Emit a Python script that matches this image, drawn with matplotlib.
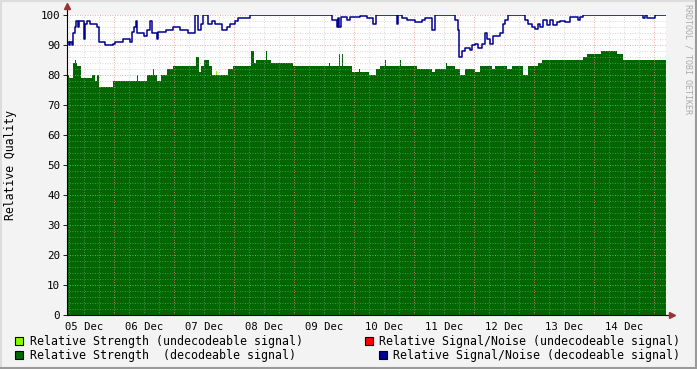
import numpy as np
import matplotlib.pyplot as plt
from matplotlib.patches import Rectangle
from matplotlib.lines import Line2D

# hours since 05 Dec 00:00, step values (each holds until the next hour)
strength_hours = [5.2, 6.0, 7.7, 8.4, 8.8, 9.3, 10.7, 15.0, 16.5, 17.0, 18.1, 23.7,
                  33.0, 33.4, 37.3, 39.5, 40.0, 41.0, 42.7, 45.0, 47.7, 56.8, 58.0,
                  58.8, 60.0, 62.1, 63.0, 69.7, 71.7, 78.8, 80.0, 80.8, 84.8, 85.2,
                  86.7, 95.7, 110.0, 110.5, 114.0, 114.4, 115.0, 115.4, 119.0, 122.0,
                  122.5, 126.1, 128.8, 130.4, 132.4, 132.8, 138.4, 138.8, 145.0, 151.0,
                  152.4, 156.8, 157.0, 160.4, 162.4, 164.4, 168.4, 170.4, 175.1, 176.4,
                  181.0, 183.0, 187.7, 189.7, 193.7, 195.0, 211.7, 213.0, 218.8, 225.3,
                  227.7, 244.8]
strength_vals = [80, 79, 84, 85, 84, 83, 79, 80, 78, 80, 76, 78,
                 80, 78, 80, 82, 80, 78, 80, 82, 83, 86, 81,
                 83, 85, 83, 80, 82, 83, 88, 84, 85, 88, 85,
                 84, 83, 84, 83, 87, 83, 87, 83, 81, 82,
                 81, 80, 82, 83, 85, 83, 85, 83, 82, 81,
                 82, 84, 83, 82, 80, 82, 81, 83, 82, 83,
                 82, 83, 80, 83, 84, 85, 86, 87, 88, 87,
                 85, 85]

# a few short bursts of undecodeable signal strength
weak_hours = [64.6, 65.0, 185.4, 185.8]
weak_vals = [81.5, 0, 83, 0]

snr_hours = [5.2, 5.8, 6.2, 7.0, 7.7, 8.3, 8.9, 9.4, 10.1, 11.8, 12.2, 13.2, 14.4,
             17.0, 17.8, 20.4, 23.7, 24.4, 27.7, 30.4, 31.0, 32.0, 32.8, 33.3, 36.0,
             37.3, 38.3, 39.0, 41.0, 41.7, 44.8, 47.5, 50.4, 53.7, 56.4, 57.7, 58.7,
             59.7, 61.7, 63.0, 64.4, 67.0, 69.0, 70.4, 72.4, 73.7, 78.4, 111.0, 113.0,
             113.5, 114.0, 114.7, 117.0, 118.4, 122.4, 125.0, 127.7, 128.8, 137.0,
             137.7, 139.0, 141.0, 144.4, 147.0, 148.4, 151.0, 152.4, 160.4, 161.5,
             162.1, 163.0, 164.4, 166.4, 167.0, 168.4, 169.7, 171.0, 172.4, 173.0,
             174.4, 175.7, 177.0, 178.4, 179.7, 180.4, 181.7, 188.4, 189.7, 191.0,
             192.4, 193.7, 194.4, 195.7, 197.0, 198.4, 199.7, 201.0, 202.4, 204.4,
             206.4, 209.4, 210.4, 211.7, 235.7, 236.4, 237.0, 240.4, 244.8]
snr_vals = [91, 90, 91, 90, 94, 96, 98, 96, 98, 92, 97, 98, 97,
            96, 91, 90, 90.5, 91, 92, 91, 94.5, 96, 98, 94, 93,
            95, 98, 94, 92, 94.5, 95, 96, 95, 94, 100, 95, 97,
            100, 97, 98, 97, 95, 96, 97, 98, 99, 100, 98.5, 96,
            99, 96, 99.5, 98.3, 99.2, 99.7, 99, 97, 100, 97,
            100, 99, 98.3, 97.8, 98.5, 99, 95, 100, 98.3, 95,
            86, 88, 89, 88.5, 90, 90.5, 89, 90.5, 94, 92,
            90.5, 93, 93, 94, 97, 98.3, 100, 98.3, 97, 96,
            95.5, 97, 96, 98.3, 96.7, 98.3, 96.7, 97.8, 98, 97.8,
            99.4, 98.3, 99.4, 100, 99, 100, 99, 100, 100]

day_labels = ["05 Dec", "06 Dec", "07 Dec", "08 Dec", "09 Dec",
              "10 Dec", "11 Dec", "12 Dec", "13 Dec", "14 Dec"]

legend_left = [("#7fff00", "Relative Strength (undecodeable signal)"),
               ("#006600", "Relative Strength  (decodeable signal)")]
legend_right = [("#ff0000", "Relative Signal/Noise (undecodeable signal)"),
                ("#000099", "Relative Signal/Noise (decodeable signal)")]

W, H = 697, 369
BG = "#f3f3f3"
MONO = "DejaVu Sans Mono"

fig = plt.figure(figsize=(W / 100, H / 100), dpi=100, facecolor=BG)
x0, x1, ytop, ybot = 67, 666, 15, 315
ax = fig.add_axes([x0 / W, (H - ybot) / H, (x1 - x0) / W, (ybot - ytop) / H])
ax.set_facecolor("white")

ax.fill_between(weak_hours, 0, weak_vals, step="post", color="#7fff00",
                linewidth=0, zorder=0.9)
ax.fill_between(strength_hours, 0, strength_vals, step="post", color="#006600",
                linewidth=0, zorder=1)
ax.step(snr_hours, snr_vals, where="post", color="#000090", lw=1.1, zorder=3)

ax.set_xlim(5.2, 244.8)
ax.set_ylim(0, 100)

# grid
for h in np.arange(6, 245, 6):
    if h % 24:
        ax.axvline(h, color="#b0b0b0", lw=0.6, ls=(0, (1, 2)), alpha=0.65, zorder=2)
for v in np.arange(2, 101, 2):
    if v % 10:
        ax.axhline(v, color="#b0b0b0", lw=0.6, ls=(0, (1, 2)), alpha=0.65, zorder=2)
for h in np.arange(24, 245, 24):
    ax.axvline(h, color="#e89090", lw=0.6, ls=(0, (1, 2)), zorder=2)
for v in np.arange(10, 101, 10):
    ax.axhline(v, color="#e89090", lw=0.6, ls=(0, (1, 2)), zorder=2)

for s in ["top", "right"]:
    ax.spines[s].set_visible(False)
ax.spines["left"].set_bounds(0, 102)
ax.spines["bottom"].set_bounds(5.2, 246)
ax.spines["left"].set_linewidth(0.8)
ax.spines["bottom"].set_linewidth(0.8)
ax.plot([5.2], [103], marker="^", color="#993333", ms=4, clip_on=False, zorder=5)
ax.plot([247], [0], marker=">", color="#993333", ms=4, clip_on=False, zorder=5)

ax.set_yticks(np.arange(0, 101, 10))
ax.set_yticklabels([str(v) for v in range(0, 101, 10)], fontfamily=MONO, fontsize=7.8)
ax.tick_params(axis="y", length=3, width=0.6, pad=2)
ax.set_xticks(np.arange(12, 240, 24))
ax.set_xticklabels(day_labels, fontfamily=MONO, fontsize=7.6)
ax.tick_params(axis="x", length=0, pad=5)

fig.text(11 / W, (H - 165) / H, "Relative Quality", rotation=90, ha="center",
         va="center", fontfamily=MONO, fontsize=8.3)
fig.text(688 / W, 1 - 4 / H, "RRDTOOL / TOBI OETIKER", rotation=270, ha="center",
         va="top", fontfamily=MONO, fontsize=6.0, color="#aaaaaa")

# legend
rows = [341, 355]
for (col, lab), yy in zip(legend_left, rows):
    fig.patches.append(Rectangle((15 / W, (H - yy - 4) / H), 8 / W, 8 / H, transform=fig.transFigure,
                                 facecolor=col, edgecolor="black", lw=0.8))
    fig.text(30 / W, (H - yy) / H, lab, ha="left", va="center", fontfamily=MONO, fontsize=8.4)
for (col, lab), yy in zip(legend_right, rows):
    fig.text(680 / W, (H - yy) / H, lab, ha="right", va="center", fontfamily=MONO, fontsize=8.4)
fig.patches.append(Rectangle((365 / W, (H - rows[0] - 4) / H), 8 / W, 8 / H, transform=fig.transFigure,
                             facecolor=legend_right[0][0], edgecolor="black", lw=0.8))
fig.patches.append(Rectangle((379 / W, (H - rows[1] - 4) / H), 8 / W, 8 / H, transform=fig.transFigure,
                             facecolor=legend_right[1][0], edgecolor="black", lw=0.8))

# 3d-ish frame: light top/left, dark right/bottom
fig.lines.append(Line2D([0, 1], [1 - 0.5 / H, 1 - 0.5 / H], transform=fig.transFigure, color="#dcdcdc", lw=1.5))
fig.lines.append(Line2D([0.5 / W, 0.5 / W], [0, 1], transform=fig.transFigure, color="#dcdcdc", lw=1.5))
fig.lines.append(Line2D([1 - 1 / W, 1 - 1 / W], [0, 1], transform=fig.transFigure, color="#9a9a9a", lw=1.5))
fig.lines.append(Line2D([0, 1], [1 / H, 1 / H], transform=fig.transFigure, color="#9a9a9a", lw=1.5))

fig.savefig("out.png", dpi=100, facecolor=BG)
